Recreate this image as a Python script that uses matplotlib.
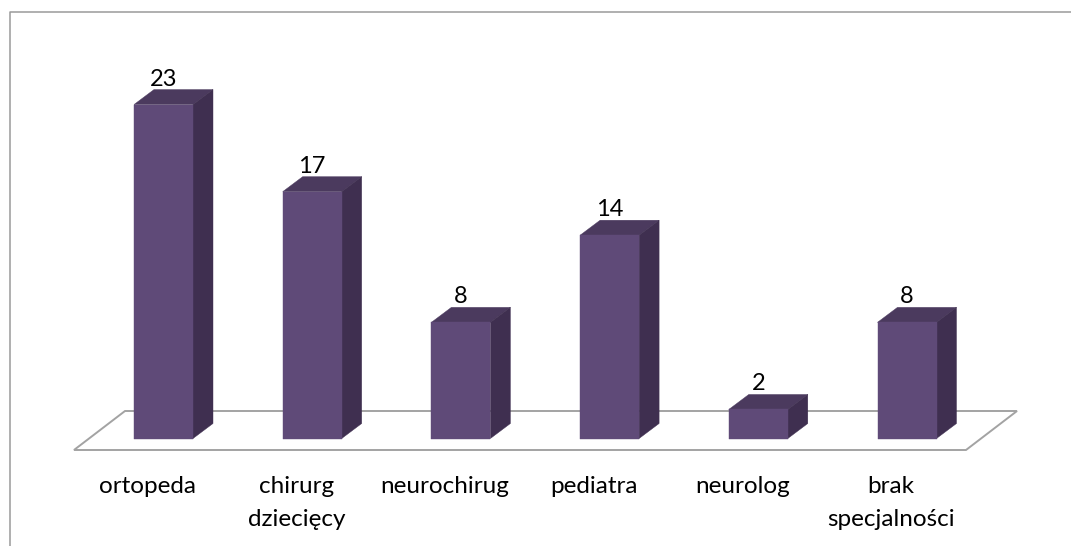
import matplotlib
matplotlib.use("Agg")
import matplotlib.pyplot as plt
from matplotlib.patches import Polygon
from matplotlib.lines import Line2D

categories = ["ortopeda", "chirurg\ndziecięcy", "neurochirug", "pediatra", "neurolog", "brak\nspecjalności"]
values = [23, 17, 8, 14, 2, 8]

W, H = 1071, 546
X0, XS = 163.5, 148.7      # pixel centre of first bar, pixel spacing
Y0, YS = 438.5, 14.52      # pixel baseline, pixels per unit

plt.rcParams["font.family"] = ["Lato", "DejaVu Sans"]
fig = plt.figure(figsize=(W / 100, H / 100), dpi=100, facecolor="white")
ax = fig.add_axes([0, 0, 1, 1])
ax.set_xlim(-X0 / XS, (W - X0) / XS)
ax.set_ylim((Y0 - H) / YS, Y0 / YS)
ax.axis("off")

bw = 59 / XS
dx = 20 / XS
dy = 15 / YS
FRONT, TOP, SIDE = "#5f4a78", "#4b3a5e", "#3f2f50"
FLOOR = "#a3a3a3"

def px(x, y):
    return ((x - X0) / XS, (Y0 - y) / YS)

# frame (figure decoration, in pixels)
fig.add_artist(Line2D([9.5 / W, 9.5 / W, 1], [0, 1 - 12 / H, 1 - 12 / H], color="#9a9a9a", lw=1.1))

# floor
ax.add_patch(Polygon([px(74, 450), px(966, 450), px(1017, 411), px(125, 411)], closed=True,
                     facecolor="white", edgecolor=FLOOR, lw=1.4, joinstyle="miter", zorder=1))

for i, (c, v) in enumerate(zip(categories, values)):
    l, r = i - bw / 2, i + bw / 2
    ax.add_patch(Polygon([(l, 0), (r, 0), (r, v), (l, v)], closed=True, facecolor=FRONT,
                         edgecolor=FRONT, lw=0.3, zorder=3))
    ax.add_patch(Polygon([(l, v), (r, v), (r + dx, v + dy), (l + dx, v + dy)], closed=True,
                         facecolor=TOP, edgecolor=TOP, lw=0.3, zorder=2))
    ax.add_patch(Polygon([(r, 0), (r + dx, dy), (r + dx, v + dy), (r, v)], closed=True,
                         facecolor=SIDE, edgecolor=SIDE, lw=0.3, zorder=2))
    ax.text(i, v + dy + 0.0, str(v), ha="center", va="bottom", fontsize=17, color="black", zorder=4)
    ax.text(i - 0.107, -2.58, c, ha="center", va="top", fontsize=17.5, color="black",
            linespacing=1.72, zorder=4)

fig.savefig("out.png", dpi=100, facecolor="white")
